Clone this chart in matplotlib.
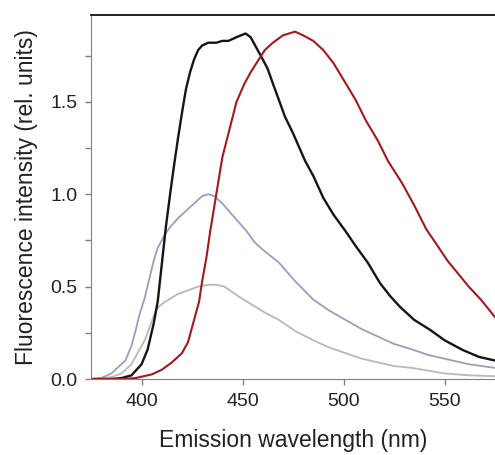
import numpy as np
import matplotlib.pyplot as plt
from matplotlib.ticker import MultipleLocator

plt.rcParams['font.family'] = ['Liberation Sans', 'DejaVu Sans']

# black trace
wl_black = [375, 385, 390, 395, 400, 403, 406, 408, 410, 412, 414, 416, 418, 420, 422,
            424, 426, 428, 430, 433, 437, 440, 443, 447, 451.5, 454, 457.5, 460,
            462.4, 465, 468, 471, 475, 481, 485, 490, 495, 501, 506, 512, 518, 523,
            528, 535, 543, 550, 559, 567, 575]
int_black = [0.0, 0.0, 0.005, 0.02, 0.08, 0.16, 0.30, 0.42, 0.62, 0.82, 0.99, 1.15, 1.30, 1.44, 1.57,
             1.66, 1.73, 1.78, 1.805, 1.82, 1.82, 1.83, 1.83, 1.85, 1.87, 1.85, 1.78, 1.73,
             1.68, 1.60, 1.51, 1.42, 1.33, 1.18, 1.10, 0.98, 0.89, 0.80, 0.72, 0.63, 0.52, 0.45,
             0.39, 0.32, 0.265, 0.21, 0.157, 0.12, 0.10]

# red trace
wl_red = [375, 390, 397, 405, 410, 415, 420, 423, 426, 428.5, 430, 432, 434, 437, 440,
          443.5, 447, 451, 454, 457.5, 461, 465, 470, 476, 480, 485, 490, 495, 500,
          506, 511, 517, 522, 529, 535, 541, 546, 551.5, 556, 562, 568, 575]
int_red = [0.0, 0.0, 0.005, 0.025, 0.05, 0.09, 0.14, 0.20, 0.32, 0.42, 0.53, 0.65, 0.80, 1.00, 1.20,
           1.35, 1.50, 1.60, 1.66, 1.72, 1.78, 1.82, 1.86, 1.88, 1.86, 1.83, 1.78, 1.71, 1.62,
           1.51, 1.40, 1.29, 1.18, 1.06, 0.94, 0.81, 0.73, 0.64, 0.58, 0.50, 0.43, 0.335]

# lavender trace
wl_blue = [375, 380, 385, 389, 392, 395, 397, 399, 401.6, 404, 406, 408, 410, 412, 414,
           416, 418, 422, 426, 430, 433, 436, 440, 444, 448, 452, 456, 460, 468, 476,
           485, 493, 501, 509, 517, 525, 534, 542, 550, 562, 575]
int_blue = [0.0, 0.005, 0.03, 0.07, 0.10, 0.18, 0.26, 0.35, 0.44, 0.55, 0.64, 0.71, 0.75, 0.79, 0.82,
            0.845, 0.87, 0.91, 0.95, 0.99, 1.00, 0.99, 0.95, 0.90, 0.85, 0.80, 0.74, 0.70, 0.63, 0.53,
            0.43, 0.37, 0.32, 0.27, 0.23, 0.19, 0.16, 0.13, 0.11, 0.08, 0.06]

# light grey trace
wl_grey = [375, 385, 390, 395, 398, 401.6, 404, 406.6, 408, 410, 412, 415, 418, 423, 428,
           433, 437, 441, 445, 449, 455, 461, 468, 476, 485, 493, 501, 509, 517, 525,
           534, 542, 550, 562, 575]
int_grey = [0.0, 0.01, 0.03, 0.08, 0.14, 0.21, 0.28, 0.36, 0.385, 0.405, 0.42, 0.44, 0.46, 0.48, 0.50,
            0.51, 0.51, 0.50, 0.47, 0.44, 0.40, 0.36, 0.32, 0.26, 0.21, 0.17, 0.14, 0.11, 0.09, 0.07,
            0.06, 0.045, 0.03, 0.02, 0.015]

fig = plt.figure(figsize=(4.95, 4.55), dpi=100)
ax = fig.add_axes([0.184, 0.167, 0.816, 0.80])

ax.plot(wl_grey, int_grey, color='#b9b9b2', lw=1.3)
ax.plot(wl_blue, int_blue, color='#9c9cc2', lw=1.3)
ax.plot(wl_black, int_black, color='#151515', lw=1.7)
ax.plot(wl_red, int_red, color='#a3191c', lw=1.5)

ax.set_xlim(375, 575)
ax.set_ylim(0, 1.97)
ax.set_xticks([400, 450, 500, 550])
ax.yaxis.set_major_locator(MultipleLocator(0.5))
ax.yaxis.set_minor_locator(MultipleLocator(0.25))
ax.yaxis.set_major_formatter(plt.FormatStrFormatter('%.1f'))

ax.spines['right'].set_visible(False)
ax.spines['left'].set_color('#808080')
ax.spines['bottom'].set_color('#808080')
ax.spines['top'].set_color('#111111')
ax.spines['top'].set_linewidth(1.3)
ax.tick_params(which='both', direction='out', color='#808080', length=4, width=1,
               labelsize=14, labelcolor='#222222', pad=6)

ax.set_xlabel('Emission wavelength (nm)', fontsize=16.5, color='#222222', labelpad=14)
ax.set_ylabel('Fluorescence intensity (rel. units)', fontsize=16.5, color='#222222', labelpad=9)

fig.savefig('out.png', dpi=100)
